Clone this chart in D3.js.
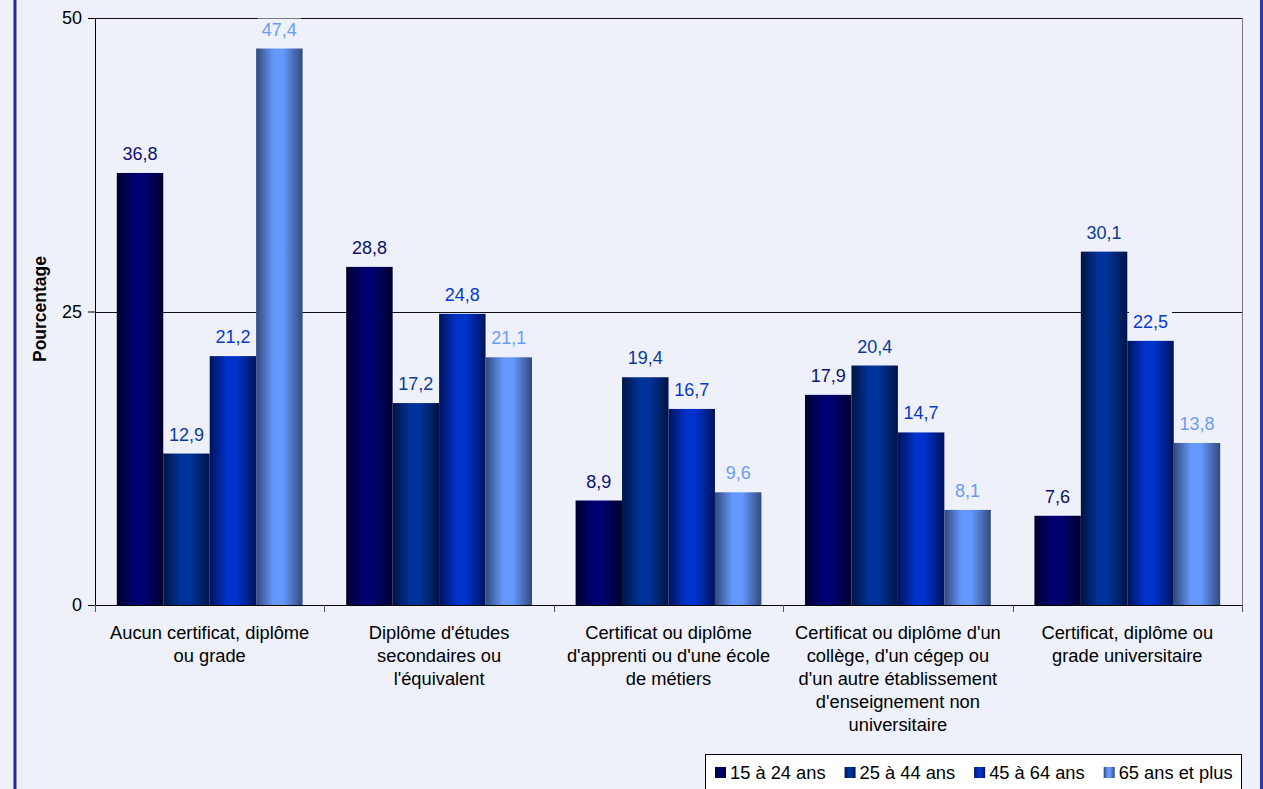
<!DOCTYPE html>
<html>
<head>
<meta charset="utf-8">
<script src="https://cdn.jsdelivr.net/npm/d3@7"></script>
<style>
  body { margin: 0; background: #eef1fa; }
  svg { display: block; font-family: "Liberation Sans", Arial, sans-serif; }
</style>
</head>
<body>
<svg id="chart" width="1263" height="789"></svg>
<script>
// data
var categories = [
  ["Aucun certificat, diplôme", "ou grade"],
  ["Diplôme d'études", "secondaires ou", "l'équivalent"],
  ["Certificat ou diplôme", "d'apprenti ou d'une école", "de métiers"],
  ["Certificat ou diplôme d'un", "collège, d'un cégep ou", "d'un autre établissement", "d'enseignement non", "universitaire"],
  ["Certificat, diplôme ou", "grade universitaire"]
];
var seriesNames = ["15 à 24 ans", "25 à 44 ans", "45 à 64 ans", "65 ans et plus"];
var values15_24 = [36.8, 28.8, 8.9, 17.9, 7.6];
var values25_44 = [12.9, 17.2, 19.4, 20.4, 30.1];
var values45_64 = [21.2, 24.8, 16.7, 14.7, 22.5];
var values65 = [47.4, 21.1, 9.6, 8.1, 13.8];
var yTicks = [0, 25, 50];
var yTitle = "Pourcentage";

var series = [values15_24, values25_44, values45_64, values65];
// light centre / dark edge / label colour for each series
var colors = [
  {light: "#000070", dark: "#00002e", label: "#101070"},
  {light: "#003399", dark: "#001445", label: "#0a3a9a"},
  {light: "#0033cc", dark: "#00135a", label: "#0838cc"},
  {light: "#6699ff", dark: "#324a7c", label: "#6c9cf8"}
];

var svg = d3.select("#chart"),
  margin = {top: 18, right: 21, bottom: 184, left: 95},
  width = +svg.attr("width") - margin.left - margin.right,
  height = +svg.attr("height") - margin.top - margin.bottom,
  bg = "#eef1fa";

svg.append("rect").attr("width", 1263).attr("height", 789).attr("fill", bg);
// outer frame (left / right edges visible)
svg.append("line").attr("x1", 15).attr("x2", 15).attr("y1", 0).attr("y2", 789)
  .attr("stroke", "#2222a4").attr("stroke-width", 3);
svg.append("line").attr("x1", 1261.5).attr("x2", 1261.5).attr("y1", 0).attr("y2", 789)
  .attr("stroke", "#3535a8").attr("stroke-width", 3);

var defs = svg.append("defs");
colors.forEach(function(c, i) {
  var g = defs.append("linearGradient").attr("id", "grad" + i)
    .attr("x1", "0%").attr("x2", "100%").attr("y1", "0%").attr("y2", "0%");
  g.append("stop").attr("offset", "0%").attr("stop-color", c.dark);
  g.append("stop").attr("offset", "38%").attr("stop-color", c.light);
  g.append("stop").attr("offset", "58%").attr("stop-color", c.light);
  g.append("stop").attr("offset", "100%").attr("stop-color", c.dark);
});

var main = svg.append("g").attr("transform", "translate(" + margin.left + "," + margin.top + ")");

var x0 = d3.scaleBand().domain(d3.range(categories.length)).range([0, width]);
var x1 = d3.scaleBand().domain(d3.range(series.length))
  .range([x0.bandwidth() * 0.095, x0.bandwidth() * 0.905]);
var y = d3.scaleLinear().domain([0, 50]).range([height, 0]);

// plot border right side
main.append("line").attr("x1", width + 0.5).attr("x2", width + 0.5).attr("y1", 0).attr("y2", height)
  .attr("stroke", "#7a7a7a");

// gridlines
main.selectAll("line.grid").data(yTicks.filter(function(d) { return d > 0; }))
  .enter().append("line").attr("class", "grid")
  .attr("x1", 0).attr("x2", width)
  .attr("y1", function(d) { return Math.round(y(d)) + 0.5; })
  .attr("y2", function(d) { return Math.round(y(d)) + 0.5; })
  .attr("stroke", "#111");

// bars
var groups = main.selectAll("g.cat").data(categories).enter().append("g")
  .attr("class", "cat")
  .attr("transform", function(d, i) { return "translate(" + x0(i) + ",0)"; });

groups.each(function(d, ci) {
  var g = d3.select(this);
  series.forEach(function(vals, si) {
    g.append("rect")
      .attr("x", x1(si))
      .attr("width", x1.bandwidth())
      .attr("y", y(vals[ci]))
      .attr("height", height - y(vals[ci]))
      .attr("fill", "url(#grad" + si + ")");
  });
});

// value labels with background boxes
groups.each(function(d, ci) {
  var g = d3.select(this);
  series.forEach(function(vals, si) {
    var cx = x1(si) + x1.bandwidth() / 2,
      by = y(vals[ci]) - 13;
    var label = String(vals[ci]).replace(".", ",");
    var t = g.append("text")
      .attr("x", cx).attr("y", by)
      .attr("text-anchor", "middle")
      .attr("font-size", 18)
      .attr("fill", colors[si].label)
      .text(label);
    var w = t.node().getComputedTextLength();
    g.insert("rect", function() { return t.node(); })
      .attr("x", cx - w / 2 - 4).attr("y", by - 17)
      .attr("width", w + 8).attr("height", 23)
      .attr("fill", bg);
  });
});

// axes
var yaxis = d3.axisLeft(y).tickValues(yTicks).tickSize(7).tickPadding(6);
var ya = main.append("g").attr("class", "yaxis").call(yaxis);
ya.select(".domain").remove();
ya.selectAll("line").attr("stroke", "#000");
ya.selectAll("text").attr("font-size", 18).attr("fill", "#000")
  .attr("font-family", "Liberation Sans, Arial, sans-serif");

main.append("line").attr("x1", 0.5).attr("x2", 0.5).attr("y1", 0).attr("y2", height + 7)
  .attr("stroke", "#000");
main.append("line").attr("x1", 0).attr("x2", width + 1)
  .attr("y1", height + 0.5).attr("y2", height + 0.5).attr("stroke", "#000");

// category ticks
main.selectAll("line.ctick").data(d3.range(categories.length + 1)).enter()
  .append("line").attr("class", "ctick")
  .attr("x1", function(i) { return Math.round(i * x0.step()) + 0.5; })
  .attr("x2", function(i) { return Math.round(i * x0.step()) + 0.5; })
  .attr("y1", height).attr("y2", height + 7)
  .attr("stroke", "#555");

// category labels
groups.each(function(lines, ci) {
  var t = d3.select(this).append("text")
    .attr("text-anchor", "middle")
    .attr("font-size", 18.3)
    .attr("fill", "#000");
  lines.forEach(function(l, li) {
    t.append("tspan")
      .attr("x", x0.bandwidth() / 2)
      .attr("y", height + 34 + li * 23)
      .text(l);
  });
});

// y title
svg.append("text")
  .attr("transform", "translate(46,309) rotate(-90)")
  .attr("text-anchor", "middle")
  .attr("font-size", 17.5)
  .attr("font-weight", "bold")
  .attr("fill", "#000")
  .text(yTitle);

// legend
var legend = svg.append("g").attr("transform", "translate(705,754)");
legend.append("rect").attr("x", 0.5).attr("y", 0.5).attr("width", 536).attr("height", 50)
  .attr("fill", "#fff").attr("stroke", "#000");
var lx = 10;
seriesNames.forEach(function(name, i) {
  legend.append("rect").attr("x", lx).attr("y", 13).attr("width", 11).attr("height", 11)
    .attr("fill", "url(#grad" + i + ")");
  var t = legend.append("text").attr("x", lx + 15).attr("y", 25)
    .attr("font-size", 18.3).attr("fill", "#000").text(name);
  lx += 15 + t.node().getComputedTextLength() + 19;
});
</script>
</body>
</html>
